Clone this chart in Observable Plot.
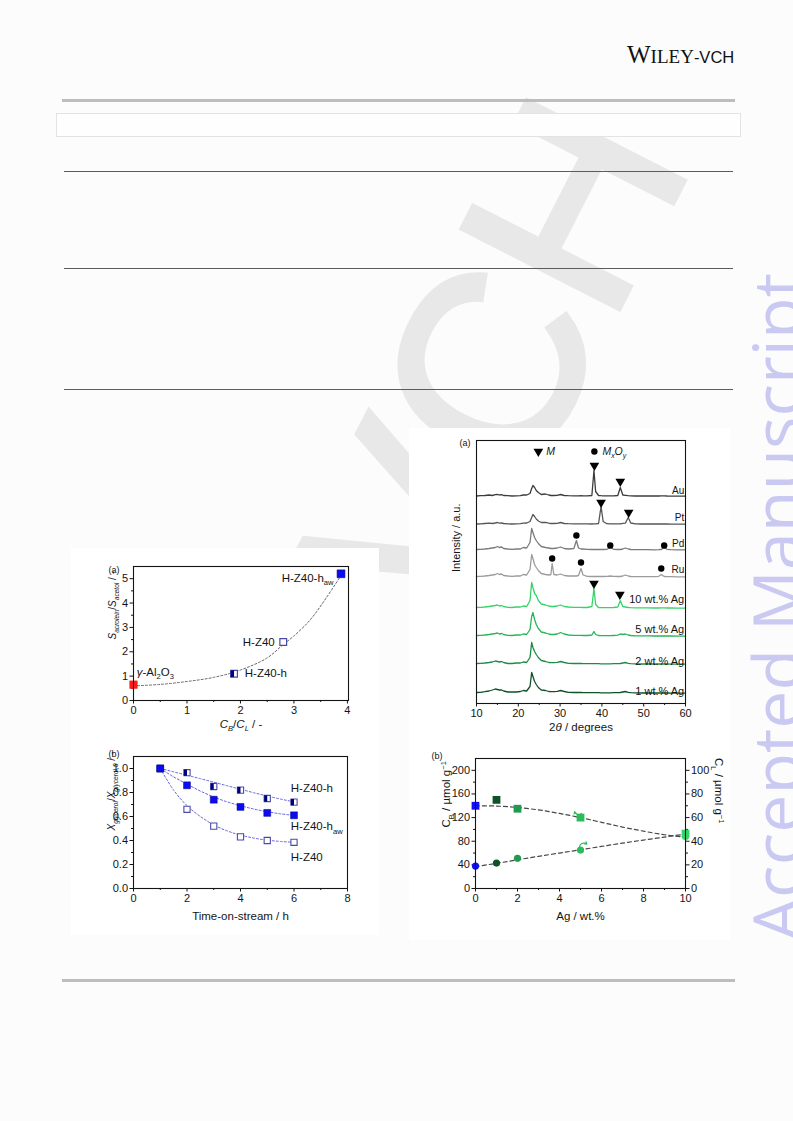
<!DOCTYPE html>
<html><head><meta charset="utf-8">
<script src="https://cdn.jsdelivr.net/npm/d3@7"></script>
<script src="https://cdn.jsdelivr.net/npm/@observablehq/plot@0.6"></script>
<style>
html,body{margin:0;padding:0}
body{width:793px;height:1121px;position:relative;background:#fcfcfc;overflow:hidden;font-family:"Liberation Sans",Arial,sans-serif}
.a{position:absolute}
</style></head><body>
<div class="a" style="left:492px;top:362px;transform:translate(-50%,-50%) rotate(-63deg);font-size:255px;line-height:1;color:#e8e8e8;white-space:nowrap;font-family:'Liberation Sans',Arial,sans-serif;-webkit-text-stroke:6px #e8e8e8">VCH</div>
<div class="a" style="left:627px;top:42px;white-space:nowrap;line-height:1;color:#111"><span style="font-family:'Liberation Serif',serif;font-size:25px">W</span><span style="font-family:'Liberation Serif',serif;font-size:19px">ILEY</span><span style="font-family:'Liberation Sans',sans-serif;font-size:16.5px">-VCH</span></div>
<div class="a" style="left:62px;top:99px;width:673px;height:3px;background:#bdbdbd"></div>
<div class="a" style="left:56px;top:113px;width:683px;height:22px;border:1px solid #e3e3e3;background:#fefefe"></div>
<div class="a" style="left:64px;top:171px;width:669px;height:1px;background:#5c5c5c"></div>
<div class="a" style="left:64px;top:268px;width:669px;height:1px;background:#5c5c5c"></div>
<div class="a" style="left:64px;top:389px;width:669px;height:1px;background:#5c5c5c"></div>
<div class="a" style="left:62px;top:979px;width:673px;height:3px;background:#bdbdbd"></div>
<div class="a" style="left:416px;top:567px;width:720px;height:80px;line-height:80px;text-align:center;transform:rotate(-90deg);font-family:'Open Sans',sans-serif;font-size:68px;color:#c9c9f2;white-space:nowrap">Accepted Manuscript</div>
<div class="a" style="left:71px;top:548px;width:308px;height:387px;background:#fff"></div>
<div class="a" style="left:409px;top:428px;width:321px;height:512px;background:#fff"></div>
<script>
// ---------- Panel (a), left: selectivity ratio vs acid-site ratio ----------
const selCatalyst = ["γ-Al2O3", "H-Z40-h", "H-Z40", "H-Z40-haw"];
const selCbCl = [0, 1.88, 2.8, 3.88];
const selRatio = [0.65, 1.1, 2.4, 5.2];
const selFitX = [0, 0.5, 1, 1.5, 2, 2.5, 2.8, 3, 3.3, 3.6, 3.9];
const selFitY = [0.6, 0.66, 0.78, 0.95, 1.25, 1.75, 2.3, 2.65, 3.3, 4.2, 5.2];
const selLabelText = ["${γ}-Al_{2}O_{3}", "H-Z40-h", "H-Z40", "H-Z40-h_{aw}"];
const selLabelX = [0.06, 2.08, 2.64, 3.74];
const selLabelY = [1.16, 1.1, 2.4, 5.02];
const selXTicks = [0, 1, 2, 3, 4];
const selXMinor = [0.5, 1.5, 2.5, 3.5];
const selYTicks = [0, 1, 2, 3, 4, 5];
const selYMinor = [0.5, 1.5, 2.5, 3.5, 4.5];

// ---------- Panel (b), left: conversion vs time-on-stream ----------
const tosHours = [1, 2, 3, 4, 5, 6];
const convHZ40h = [1.0, 0.965, 0.85, 0.82, 0.75, 0.72];
const convHZ40haw = [1.0, 0.86, 0.74, 0.68, 0.63, 0.61];
const convHZ40 = [1.0, 0.66, 0.52, 0.43, 0.40, 0.385];
const tosFitX = [1, 1.5, 2, 2.5, 3, 3.5, 4, 4.5, 5, 5.5, 6];
const fitHZ40h = [1.0, 0.972, 0.944, 0.915, 0.886, 0.856, 0.827, 0.798, 0.771, 0.745, 0.722];
const fitHZ40haw = [1.0, 0.93, 0.87, 0.812, 0.763, 0.722, 0.69, 0.662, 0.64, 0.622, 0.61];
const fitHZ40 = [1.0, 0.82, 0.69, 0.6, 0.53, 0.48, 0.445, 0.42, 0.403, 0.392, 0.385];
const tosLabelText = ["H-Z40-h", "H-Z40-h_{aw}", "H-Z40"];
const tosLabelY = [0.836, 0.515, 0.263];
const tosLabelX = 5.88;
const tosXTicks = [0, 2, 4, 6, 8];
const tosXMinor = [1, 3, 5, 7];
const tosYTicks = [0, 0.2, 0.4, 0.6, 0.8, 1.0];
const tosYMinor = [0.1, 0.3, 0.5, 0.7, 0.9];

// ---------- Panel (a), right: XRD patterns ----------
const twoTheta = [10, 11, 12, 13, 13.8, 14.5, 15, 15.5, 16, 16.5,
  17.5, 18.5, 19.5, 20.5, 21.2, 22, 22.8, 23.2, 23.5, 23.9,
  24.3, 24.8, 25.5, 26.5, 27.3, 27.8, 28.1, 28.5, 29.3, 30.1,
  31, 32, 33.3, 33.9, 34.4, 35, 35.5, 36.5, 37.6, 38.1,
  38.5, 39.2, 39.8, 40.3, 41.2, 42, 42.8, 43.8, 44.4, 45,
  45.6, 46.3, 46.9, 48, 49.5, 51, 52.5, 53.6, 54.2, 54.9,
  55.6, 56.5, 58, 59, 60];
const xrdAu = [0.5, 0.8, 1, 1.5, 1, 1.8, 2.2, 1.5, 1.8, 1,
  0.8, 0.5, 0.7, 0.8, 1.5, 1.5, 3, 8, 11, 9,
  6, 4, 2, 2.5, 1.5, 1, 1, 1, 1.2, 2,
  1, 0.8, 0.7, 0.7, 0.7, 0.8, 0.7, 0.6, 1, 26,
  5, 1, 0.8, 0.7, 0.6, 0.6, 0.7, 1, 9, 1.5,
  1.2, 0.8, 0.6, 0.5, 0.5, 0.6, 0.5, 0.5, 0.6, 0.7,
  0.5, 0.4, 0.4, 0.3, 0.3];
const xrdPt = [0.5, 0.7, 1, 1.3, 1, 1.5, 2, 1.3, 1.5, 1,
  0.7, 0.5, 0.6, 0.8, 1.3, 1.5, 3, 7, 10, 8,
  5.5, 3.5, 2, 2.2, 1.3, 1, 1, 1, 1.2, 2,
  1, 0.8, 0.7, 0.7, 0.6, 0.7, 0.6, 0.6, 0.5, 0.6,
  0.6, 1, 18, 3, 0.8, 0.6, 0.6, 0.6, 0.7, 1.2,
  1.3, 7, 1.5, 0.6, 0.5, 0.5, 0.5, 0.5, 0.5, 0.5,
  0.5, 0.4, 0.4, 0.3, 0.3];
const xrdPd = [1, 1.2, 1.5, 2, 2.5, 3, 4, 3, 3.5, 2,
  1.5, 1.2, 1.5, 1.5, 3, 2.5, 8, 22, 18, 13,
  10, 7, 4, 3, 2.5, 2, 2, 2, 2.5, 3.5,
  2, 1.5, 2, 10, 2.5, 1.5, 1.5, 1.2, 1, 1,
  1, 1, 1, 1, 1.2, 3, 1.2, 1, 1, 1.5,
  2.5, 1.5, 1, 0.8, 0.8, 0.8, 0.7, 0.8, 1, 3,
  1.2, 0.8, 0.7, 0.7, 0.6];
const xrdRu = [1, 1.2, 1.5, 2, 2.5, 3, 4, 3, 3.5, 2,
  1.5, 1.2, 1.5, 1.5, 3, 2.5, 8, 23, 19, 13,
  10, 7, 4, 3, 2.5, 3, 14, 3, 2.5, 3.5,
  2, 1.5, 1.5, 1.5, 2, 9, 2.5, 1.2, 1, 1,
  1, 1, 1, 1, 1.2, 1.5, 1.2, 1, 1, 1.5,
  2.5, 1.5, 1, 0.8, 0.8, 0.8, 0.8, 1.2, 3, 1,
  0.8, 0.8, 0.7, 0.7, 0.6];
const xrdAg10 = [1, 1.2, 1.5, 2, 2.5, 3, 3.5, 2.5, 3, 2,
  1.2, 1, 1.5, 1.5, 2.5, 2, 8, 26, 21, 15,
  13, 8, 4.5, 3.5, 2.5, 2, 2, 2, 2.5, 3.5,
  2, 1.5, 1.2, 1.2, 1.2, 1.2, 1, 1, 2, 20,
  4, 1, 0.8, 0.8, 0.8, 0.8, 1, 1.5, 8, 2,
  1.5, 1, 0.8, 0.6, 0.6, 0.6, 0.5, 0.5, 0.6, 0.6,
  0.5, 0.5, 0.4, 0.4, 0.3];
const xrdAg5 = [1, 1.2, 1.5, 2, 2.5, 3, 3.5, 2.5, 3, 2,
  1.2, 1, 1.5, 1.5, 2.5, 2, 7, 20, 24, 17,
  12, 8, 4.5, 3.5, 2.5, 2, 2, 2, 2.5, 4,
  2.5, 1.5, 1.2, 1.2, 1.2, 1.2, 1, 1, 1.5, 5,
  2, 1, 0.8, 0.8, 0.8, 0.8, 1, 1.3, 2.5, 2,
  2.5, 1.5, 1, 0.7, 0.6, 0.6, 0.5, 0.5, 0.5, 0.5,
  0.5, 0.5, 0.4, 0.4, 0.3];
const xrdAg2 = [1, 1.2, 1.5, 2, 2.5, 3.5, 3, 2.5, 3, 2,
  1, 1, 1.5, 1.5, 2.5, 2, 7, 22, 17, 13,
  10, 7, 4, 3, 2, 1.8, 1.8, 1.8, 2.2, 3,
  2, 1.2, 1, 1, 1, 1, 0.8, 0.8, 0.8, 0.8,
  0.8, 0.8, 0.7, 0.7, 0.7, 0.7, 0.8, 0.8, 1, 1.5,
  2, 1.2, 0.8, 0.6, 0.5, 0.5, 0.5, 0.5, 0.5, 0.5,
  0.5, 0.4, 0.4, 0.3, 0.3];
const xrdAg1 = [1, 1.2, 1.8, 2.5, 3.5, 4.5, 4, 3.5, 3.5, 2.5,
  1.5, 1.5, 1.5, 2, 3, 2.5, 7, 21, 17, 12,
  9, 6, 3.5, 3, 2, 1.8, 1.8, 1.8, 2.2, 3,
  2, 1.2, 1, 1, 1, 1, 0.8, 0.8, 0.8, 0.8,
  0.8, 0.8, 0.7, 0.7, 0.7, 0.7, 0.8, 0.8, 1, 1.5,
  2, 1.2, 0.8, 0.6, 0.5, 0.5, 0.5, 0.5, 0.5, 0.5,
  0.5, 0.4, 0.4, 0.3, 0.3];
const xrdSamples = ["Au", "Pt", "Pd", "Ru", "10 wt.% Ag", "5 wt.% Ag", "2 wt.% Ag", "1 wt.% Ag"];
const xrdPatterns = [xrdAu, xrdPt, xrdPd, xrdRu, xrdAg10, xrdAg5, xrdAg2, xrdAg1];
const xrdStackOffset = [207, 179, 153, 126, 95, 67, 39, 10];
const xrdLabelY = [213, 186, 160, 134, 104, 74, 42, 12];
const peakAngle = [38.2, 44.4, 39.8, 46.4, 33.9, 42, 54.9, 28.1, 35, 54.2, 38.1, 44.3];
const peakLevel = [238, 222, 201, 191, 168, 158, 158, 145, 141, 135, 120, 109];
const peakPhase = ["M", "M", "M", "M", "MxOy", "MxOy", "MxOy", "MxOy", "MxOy", "MxOy", "M", "M"];
const legendPhase = ["M", "MxOy"];
const legendText = ["${M}", "${M}%{x}${O}%{y}"];
const legendX = [24.8, 38.2];
const legendLevel = 252;
const xrdTicks = [10, 20, 30, 40, 50, 60];
const xrdMinor = [15, 25, 35, 45, 55];

// ---------- Panel (b), right: acid sites vs Ag loading ----------
const agLoading = [0, 1, 2, 5, 10];
const brønsted = [140, 150, 135, 120, 93];
const lewis = [19, 21.5, 25.5, 32.5, 44];
const agFitX = [0, 1, 2, 3, 4, 5, 6, 7, 8, 9, 10];
const brønstedFit = [140, 139.5, 137, 133, 127, 120, 112, 104, 97, 91, 87];
const lewisFit = [18.5, 21.3, 24.3, 27.2, 30, 32.8, 35.6, 38.4, 41, 43.5, 46];
const arrowX1 = [5.05, 4.95], arrowY1 = [127, 71], arrowX2 = [4.72, 5.3], arrowY2 = [130, 75];
const agTicks = [0, 2, 4, 6, 8, 10];
const agMinor = [1, 3, 5, 7, 9];
const cbTicks = [0, 40, 80, 120, 160, 200];
const cbMinor = [20, 60, 100, 140, 180];
const clTicks = [0, 20, 40, 60, 80, 100];
const clMinor = [10, 30, 50, 70, 90];
const clToCb = 2; // right axis (C_L) is half of left axis (C_B)

// ---------------- styles ----------------
const FONT = '"Liberation Sans", Arial, Helvetica, sans-serif';
const INK = "#141414";
const traceColor = {"Au": "#3c3c3c", "Pt": "#565656", "Pd": "#7b7b7b", "Ru": "#9c9c9c",
  "10 wt.% Ag": "#35d468", "5 wt.% Ag": "#27b559", "2 wt.% Ag": "#1b8c45", "1 wt.% Ag": "#0e5228"};
const agColor = {0: "#1010f2", 1: "#0e5228", 2: "#1f9a4f", 5: "#2bbb5a", 10: "#35d468"};
const BLUE = "#0a0af5", NAVY = "#00007a", OPEN = "#4a4aaa";
const halfLeft = {draw(ctx, size) { const s = Math.sqrt(size) / 2; ctx.moveTo(-s, -s); ctx.lineTo(0, -s); ctx.lineTo(0, s); ctx.lineTo(-s, s); ctx.closePath(); }};
const plain = d => String(d);

function basePlot(o) {
  return Plot.plot(Object.assign({
    style: {fontFamily: FONT, fontSize: "11px", background: "transparent", color: INK, overflow: "visible", maxWidth: "none"},
    color: {type: "identity"}
  }, o));
}
function axes(xT, xM, yT, yM, fmtY, fs) {
  return [
    Plot.axisX({ticks: xT, tickSize: 3.5, tickPadding: 2, label: null, tickFormat: plain, fontSize: fs}),
    Plot.axisX({ticks: xM, tickSize: 2, tickFormat: () => "", label: null}),
    Plot.axisY({ticks: yT, tickSize: 3.5, tickPadding: 2, label: null, tickFormat: fmtY, fontSize: fs}),
    Plot.axisY({ticks: yM, tickSize: 2, tickFormat: () => "", label: null})
  ];
}
function richify(svg) {
  svg.querySelectorAll("text").forEach(t => {
    const s = t.textContent;
    if (!/[_^$%]\{/.test(s)) return;
    const fs = parseFloat(getComputedStyle(t).fontSize) || 11;
    t.textContent = "";
    const re = /([_^$%])\{([^}]*)\}/g;
    let last = 0, m, shift = 0;
    const add = (str, kind) => {
      if (!str) return;
      const ts = document.createElementNS("http://www.w3.org/2000/svg", "tspan");
      let target = 0;
      if (kind === "_" || kind === "%") { target = 0.3 * fs; ts.setAttribute("font-size", (0.66 * fs).toFixed(2)); }
      if (kind === "^") { target = -0.38 * fs; ts.setAttribute("font-size", (0.66 * fs).toFixed(2)); }
      if (kind === "$" || kind === "%") ts.setAttribute("font-style", "italic");
      const dy = target - shift;
      if (dy) ts.setAttribute("dy", dy.toFixed(2));
      shift = target;
      ts.textContent = str;
      t.appendChild(ts);
    };
    while ((m = re.exec(s))) { add(s.slice(last, m.index), ""); add(m[2], m[1]); last = re.lastIndex; }
    add(s.slice(last), "");
  });
}
function place(svg, left, top) {
  const d = document.createElement("div");
  d.className = "a"; d.style.left = left + "px"; d.style.top = top + "px";
  d.appendChild(svg); document.body.appendChild(d); richify(svg);
}
const title = (txt, o) => Plot.text([txt], Object.assign({text: d => d, fill: INK, fontSize: 11.5}, o));

// ---------------- left (a) ----------------
{
  const pts = selCatalyst.map((c, i) => ({c, x: selCbCl[i], y: selRatio[i]}));
  const fit = selFitX.map((x, i) => ({x, y: selFitY[i]}));
  const labels = selLabelText.map((t, i) => ({t, x: selLabelX[i], y: selLabelY[i]}));
  const svg = basePlot({
    width: 318, height: 190, marginLeft: 63, marginRight: 40, marginTop: 13, marginBottom: 43,
    x: {domain: [0, 4.02]}, y: {domain: [0, 5.5]},
    marks: [
      ...axes(selXTicks, selXMinor, selYTicks, selYMinor, plain, 11),
      Plot.line(fit, {x: "x", y: "y", curve: "catmull-rom", stroke: "#666", strokeWidth: 1, strokeDasharray: "2,2"}),
      Plot.dot(pts.filter(d => d.c === "γ-Al2O3"), {x: "x", y: "y", symbol: "square", r: 4.6, fill: "#ff1a1a"}),
      Plot.dot(pts.filter(d => d.c === "H-Z40"), {x: "x", y: "y", symbol: "square", r: 3.8, fill: "white", stroke: OPEN, strokeWidth: 1.2}),
      Plot.dot(pts.filter(d => d.c === "H-Z40-h"), {x: "x", y: "y", symbol: "square", r: 3.8, fill: "white", stroke: OPEN, strokeWidth: 1.2}),
      Plot.dot(pts.filter(d => d.c === "H-Z40-h"), {x: "x", y: "y", symbol: halfLeft, r: 3.8, fill: NAVY}),
      Plot.dot(pts.filter(d => d.c === "H-Z40-haw"), {x: "x", y: "y", symbol: "square", r: 4.4, fill: BLUE, stroke: NAVY, strokeWidth: 0.6}),
      Plot.text(labels.slice(0, 2), {x: "x", y: "y", text: "t", textAnchor: "start", fontSize: 11.5, fill: INK}),
      Plot.text(labels.slice(2), {x: "x", y: "y", text: "t", textAnchor: "end", fontSize: 11.5, fill: INK}),
      title("${S}%{acrolein}/${S}%{acetol} / -", {frameAnchor: "left", dx: -21, dy: 6, rotate: -90, fontSize: 10}),
      title("${C}%{B}/${C}%{L} / -", {frameAnchor: "bottom", dy: 27}),
      title("(a)", {frameAnchor: "top-left", dx: -25, dy: 0, fontSize: 9}),
      Plot.frame({stroke: INK, strokeWidth: 1.1})
    ]
  });
  place(svg, 70, 553);
}

// ---------------- left (b) ----------------
{
  const mk = arr => tosHours.map((x, i) => ({x, y: arr[i]}));
  const mf = arr => tosFitX.map((x, i) => ({x, y: arr[i]}));
  const lbl = tosLabelText.map((t, i) => ({t, x: tosLabelX, y: tosLabelY[i]}));
  const dash = {x: "x", y: "y", curve: "catmull-rom", stroke: "#6464e0", strokeWidth: 1, strokeDasharray: "2,2"};
  const svg = basePlot({
    width: 318, height: 200, marginLeft: 63, marginRight: 41, marginTop: 11, marginBottom: 57,
    x: {domain: [0, 8]}, y: {domain: [0, 1.1]},
    marks: [
      ...axes(tosXTicks, tosXMinor, tosYTicks, tosYMinor, d3.format(".1f"), 11),
      Plot.line(mf(fitHZ40h), dash),
      Plot.line(mf(fitHZ40haw), dash),
      Plot.line(mf(fitHZ40), dash),
      Plot.dot(mk(convHZ40), {x: "x", y: "y", symbol: "square", r: 3.5, fill: "white", stroke: OPEN, strokeWidth: 1.1}),
      Plot.dot(mk(convHZ40h), {x: "x", y: "y", symbol: "square", r: 3.5, fill: "white", stroke: OPEN, strokeWidth: 1.1}),
      Plot.dot(mk(convHZ40h), {x: "x", y: "y", symbol: halfLeft, r: 3.5, fill: NAVY}),
      Plot.dot(mk(convHZ40haw), {x: "x", y: "y", symbol: "square", r: 3.9, fill: BLUE, stroke: NAVY, strokeWidth: 0.5}),
      Plot.text(lbl, {x: "x", y: "y", text: "t", textAnchor: "start", fontSize: 11.5, fill: INK}),
      title("${X}%{glycerol}/${X}%{glycerol,0} / -", {frameAnchor: "left", dx: -22, dy: 8, rotate: -90, fontSize: 10}),
      title("Time-on-stream / h", {frameAnchor: "bottom", dy: 31}),
      title("(b)", {frameAnchor: "top-left", dx: -25, dy: -6, fontSize: 9}),
      Plot.frame({stroke: INK, strokeWidth: 1.1})
    ]
  });
  place(svg, 70, 745);
}

// ---------------- right (a) XRD ----------------
{
  const traces = xrdSamples.map((s, k) => twoTheta.map((x, j) => ({s, x, y: xrdStackOffset[k] + xrdPatterns[k][j]})));
  const peaks = peakAngle.map((x, i) => ({x, y: peakLevel[i], p: peakPhase[i]}));
  const legend = legendPhase.map((p, i) => ({p, x: legendX[i], y: legendLevel, t: legendText[i]}));
  const labels = xrdSamples.map((s, k) => ({s, x: 59.7, y: xrdLabelY[k], metal: k < 4}));
  const svg = basePlot({
    width: 320, height: 315, marginLeft: 68, marginRight: 43, marginTop: 12, marginBottom: 40,
    x: {domain: [10, 60]}, y: {domain: [0, 263], axis: null},
    marks: [
      Plot.axisX({ticks: xrdTicks, tickSize: 3.5, tickPadding: 2, label: null, tickFormat: plain, fontSize: 11}),
      Plot.axisX({ticks: xrdMinor, tickSize: 2, tickFormat: () => "", label: null}),
      ...traces.map((tr, k) => Plot.line(tr, {x: "x", y: "y", stroke: traceColor[xrdSamples[k]], strokeWidth: 1.3})),
      Plot.dot(peaks.filter(d => d.p === "M"), {x: "x", y: "y", symbol: "triangle", rotate: 180, r: 3.6, fill: "#000"}),
      Plot.dot(peaks.filter(d => d.p === "MxOy"), {x: "x", y: "y", symbol: "circle", r: 3.2, fill: "#000"}),
      Plot.dot(legend.filter(d => d.p === "M"), {x: "x", y: "y", symbol: "triangle", rotate: 180, r: 3.6, fill: "#000"}),
      Plot.dot(legend.filter(d => d.p === "MxOy"), {x: "x", y: "y", symbol: "circle", r: 3.2, fill: "#000"}),
      Plot.text(legend, {x: "x", y: "y", text: "t", dx: 8, textAnchor: "start", fontSize: 10.5, fill: INK}),
      Plot.text(labels.filter(d => d.metal), {x: "x", y: "y", text: "s", textAnchor: "end", fontSize: 10, fill: INK}),
      Plot.text(labels.filter(d => !d.metal), {x: "x", y: "y", text: "s", textAnchor: "end", fontSize: 11, fill: INK}),
      title("Intensity / a.u.", {frameAnchor: "left", dx: -20, rotate: -90, fontSize: 11}),
      title("2${θ} / degrees", {frameAnchor: "bottom", dy: 27}),
      title("(a)", {frameAnchor: "top-left", dx: -17, dy: -1, fontSize: 9}),
      Plot.frame({stroke: INK, strokeWidth: 1.1})
    ]
  });
  place(svg, 408, 428);
}

// ---------------- right (b) acid sites ----------------
{
  const cb = agLoading.map((x, i) => ({x, y: brønsted[i], c: agColor[x]}));
  const cl = agLoading.map((x, i) => ({x, y: lewis[i] * clToCb, c: agColor[x]}));
  const cbFit = agFitX.map((x, i) => ({x, y: brønstedFit[i]}));
  const clFit = agFitX.map((x, i) => ({x, y: lewisFit[i] * clToCb}));
  const arrows = arrowX1.map((x1, i) => ({x1, y1: arrowY1[i], x2: arrowX2[i], y2: arrowY2[i]}));
  const dash = {x: "x", y: "y", curve: "catmull-rom", stroke: "#474747", strokeWidth: 1.2, strokeDasharray: "4,3"};
  const svg = basePlot({
    width: 320, height: 200, marginLeft: 67, marginRight: 43, marginTop: 13, marginBottom: 57,
    x: {domain: [0, 10]}, y: {domain: [0, 220]},
    marks: [
      ...axes(agTicks, agMinor, cbTicks, cbMinor, plain, 11),
      Plot.axisY({anchor: "right", ticks: clTicks.map(v => v * clToCb), tickFormat: d => String(d / clToCb), tickSize: 3.5, tickPadding: 2, label: null, fontSize: 11}),
      Plot.axisY({anchor: "right", ticks: clMinor.map(v => v * clToCb), tickFormat: () => "", tickSize: 2, label: null}),
      Plot.line(cbFit, dash),
      Plot.line(clFit, dash),
      Plot.arrow(arrows, {x1: "x1", y1: "y1", x2: "x2", y2: "y2", bend: 60, headLength: 4, stroke: "#2bbb5a", strokeWidth: 1.1}),
      Plot.dot(cb, {x: "x", y: "y", symbol: "square", r: 4.4, fill: "c"}),
      Plot.dot(cl, {x: "x", y: "y", symbol: "circle", r: 3.6, fill: "c"}),
      title("C_{B} / µmol g^{−1}", {frameAnchor: "left", dx: -29, dy: 4, rotate: -90}),
      title("C_{L} / µmol g^{−1}", {frameAnchor: "right", dx: 33, rotate: 90}),
      title("Ag / wt.%", {frameAnchor: "bottom", dy: 31}),
      title("(b)", {frameAnchor: "top-left", dx: -44, dy: -6, fontSize: 9}),
      Plot.frame({stroke: INK, strokeWidth: 1.1})
    ]
  });
  place(svg, 408, 745);
}
</script>
</body></html>
